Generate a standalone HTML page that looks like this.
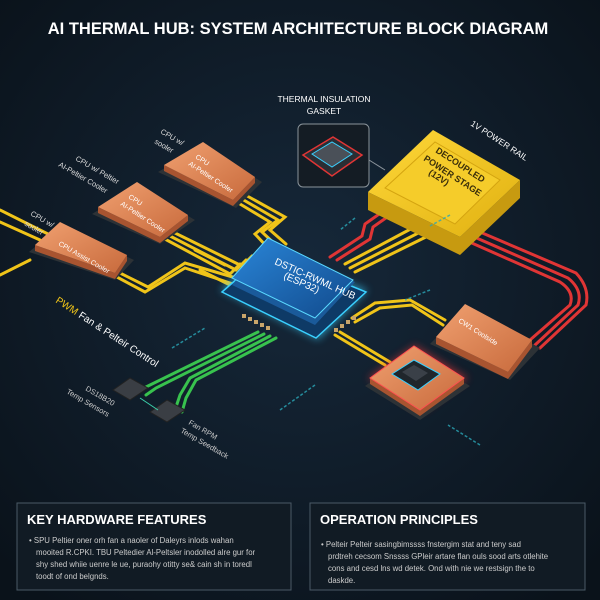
<!DOCTYPE html>
<html><head><meta charset="utf-8"><style>
body{margin:0;background:#0d1820;}
svg{display:block}
text{font-family:"Liberation Sans",sans-serif}
</style></head><body>
<svg width="600" height="600" viewBox="0 0 600 600" xmlns="http://www.w3.org/2000/svg">
<defs>
<radialGradient id="bg" cx="50%" cy="45%" r="70%"><stop offset="0" stop-color="#16283a"/><stop offset="1" stop-color="#0a121a"/></radialGradient>
<linearGradient id="cu" x1="0" y1="0" x2="1" y2="1"><stop offset="0" stop-color="#f0a070"/><stop offset="1" stop-color="#c86a3c"/></linearGradient>
<linearGradient id="hub" x1="0" y1="0" x2="1" y2="1"><stop offset="0" stop-color="#2a86d8"/><stop offset="1" stop-color="#114a8c"/></linearGradient>
<linearGradient id="yel" x1="0" y1="0" x2="1" y2="1"><stop offset="0" stop-color="#ffd83a"/><stop offset="1" stop-color="#e0b010"/></linearGradient>
<filter id="glow" x="-30%" y="-30%" width="160%" height="160%"><feGaussianBlur stdDeviation="4"/></filter>
</defs>
<rect width="600" height="600" fill="url(#bg)"/>
<text x="298" y="34" text-anchor="middle" fill="#fff" font-size="16.5" font-weight="bold">AI THERMAL HUB: SYSTEM ARCHITECTURE BLOCK DIAGRAM</text>

<!-- wires -->
<g fill="none" stroke-width="3" stroke-linecap="round">
<g stroke="#f0c419">
<path d="M230,198 L270,222 L255,234 L270,250"/>
<path d="M235,195 L278,220 L262,232 L278,247"/>
<path d="M240,192 L285,217 L270,230 L286,244"/>
<path d="M163,238 L230,274 L240,264"/>
<path d="M168,235 L236,270 L246,260"/>
<path d="M173,232 L242,266 L252,256"/>
<path d="M115,276 L145,292 L185,268 L233,284"/>
<path d="M120,273 L148,287 L185,263 L236,278"/>
<path d="M0,210 L60,240 M0,222 L40,240 M0,275 L30,260"/>
<path d="M200,270 L230,285 M195,250 L225,265"/>
<path d="M420,224 L345,264 M428,228 L350,268 M436,232 L355,272"/>
<path d="M352,318 L375,303 L410,300 L445,320"/>
<path d="M355,322 L380,308 L412,305 L443,325"/>
<path d="M335,335 L385,365 M340,332 L390,362"/>
</g>
<g stroke="#e03535">
<path d="M385,210 L365,224 L362,236 L330,257"/>
<path d="M393,213 L373,227 L370,239 L337,260"/>
<path d="M465,240 L560,282 Q575,292 570,305 L530,340"/>
<path d="M472,236 L568,278 Q583,290 578,305 L535,345"/>
<path d="M480,232 L576,273 Q590,288 586,305 L540,348"/>
</g>
<g stroke="#38c24e">
<path d="M258,332 L150,385 L140,390"/>
<path d="M264,334 L156,388 L146,395"/>
<path d="M270,336 L190,378 L180,395 L175,410"/>
<path d="M276,338 L196,380 L186,398 L182,412"/>
</g>
</g>

<!-- copper blocks left -->
<g>
<polygon points="158,172 203,146 262,182 236,208" fill="#2d3236"/>
<polygon points="164,165 164,171 233,206 255,183 255,177 233,200" fill="#a85430"/>
<polygon points="164,165 203,142 255,177 233,200" fill="url(#cu)"/>
<polygon points="92,214 137,186 195,220 160,244" fill="#2d3236"/>
<polygon points="98,207 98,213 160,243 188,221 188,215 160,237" fill="#a85430"/>
<polygon points="98,207 137,182 188,215 160,237" fill="url(#cu)"/>
<polygon points="29,252 60,226 134,260 115,280" fill="#2d3236"/>
<polygon points="35,245 35,251 115,279 127,261 127,255 115,273" fill="#a85430"/>
<polygon points="35,245 60,222 127,255 115,273" fill="url(#cu)"/>
</g>
<g fill="#fff" font-size="7">
<text transform="translate(195,158) rotate(33)">CPU</text>
<text transform="translate(188,165) rotate(33)">AI-Peltier Cooler</text>
<text transform="translate(128,198) rotate(33)">CPU</text>
<text transform="translate(120,205) rotate(33)">AI-Peltier Cooler</text>
<text transform="translate(58,245) rotate(30)">CPU Assist Cooler</text>
</g>
<g fill="#ddd" font-size="7.5">
<text transform="translate(160,133) rotate(30)">CPU w/</text>
<text transform="translate(154,143) rotate(30)">sooler</text>
<text transform="translate(75,160) rotate(30)">CPU w/ Peltier</text>
<text transform="translate(58,166) rotate(30)">AI-Peltier Cooler</text>
<text transform="translate(30,215) rotate(30)">CPU w/</text>
<text transform="translate(24,225) rotate(30)">sooler</text>
</g>

<!-- hub -->
<polygon points="220,290 268,250 368,290 318,340" fill="#3ad0ff" opacity="0.55" filter="url(#glow)"/>
<polygon points="222,292 268,252 366,292 316,338" fill="#0e3a66" stroke="#3ad0ff" stroke-width="1.5"/>
<polygon points="232,285 268,242 355,282 315,325" fill="#1a5a9a"/>
<polygon points="232,278 268,238 353,280 315,318" fill="url(#hub)" stroke="#5ad8ff" stroke-width="1"/>
<g fill="#c9a56a"><rect x="242" y="314" width="4" height="4"/><rect x="248" y="317" width="4" height="4"/><rect x="254" y="320" width="4" height="4"/><rect x="260" y="323" width="4" height="4"/><rect x="266" y="326" width="4" height="4"/><rect x="334" y="328" width="4" height="4"/><rect x="340" y="324" width="4" height="4"/><rect x="346" y="320" width="4" height="4"/><rect x="352" y="316" width="4" height="4"/></g>
<text transform="translate(274,264) rotate(24)" fill="#fff" font-size="10">DSTIC-RWML HUB</text>
<text transform="translate(283,278) rotate(24)" fill="#fff" font-size="10">(ESP32)</text>

<!-- gasket -->
<text x="324" y="102" text-anchor="middle" fill="#fff" font-size="8.5">THERMAL INSULATION</text>
<text x="324" y="114" text-anchor="middle" fill="#fff" font-size="8.5">GASKET</text>
<rect x="298" y="124" width="71" height="63" rx="5" fill="#141c24" stroke="#8a939a" stroke-width="1"/>
<polygon points="303,155 333,137 362,155 332,176" fill="#2a2e34" stroke="#e03535" stroke-width="1.5"/>
<polygon points="312,154 332,142 352,154 332,167" fill="#4a5058" stroke="#3ad0ff" stroke-width="1"/>
<line x1="369" y1="160" x2="385" y2="170" stroke="#8a939a"/>

<!-- power stage -->
<polygon points="368,192 368,210 460,255 520,198 520,180 460,237" fill="#c79a10"/>
<polygon points="368,192 433,130 520,180 460,237" fill="url(#yel)"/>
<polygon points="385,188 435,142 500,180 455,224" fill="#f5cc2a" stroke="#d4a410" stroke-width="1"/>
<g fill="#3a2e0a" font-size="9" font-weight="bold">
<text transform="translate(435,152) rotate(33)">DECOUPLED</text>
<text transform="translate(423,160) rotate(33)">POWER STAGE</text>
<text transform="translate(428,174) rotate(33)">(12V)</text>
</g>
<text transform="translate(470,125) rotate(33)" fill="#fff" font-size="8.5">1V POWER RAIL</text>

<!-- right block -->
<polygon points="430,344 465,308 540,348 510,380" fill="#2d3236"/>
<polygon points="436,337 436,344 508,379 532,347 532,340 508,372" fill="#a85430"/>
<polygon points="436,337 465,304 532,340 508,372" fill="url(#cu)"/>
<text transform="translate(458,322) rotate(32)" fill="#fff" font-size="7">CW1 Coolside</text>

<!-- chip block -->
<polygon points="368,378 415,345 468,378 422,412" fill="#e03535" opacity="0.6" filter="url(#glow)"/>
<polygon points="365,386 414,352 470,386 420,420" fill="#2d3236"/>
<polygon points="370,378 370,384 420,416 464,384 464,378 420,410" fill="#a85430"/>
<polygon points="370,378 414,346 464,378 420,410" fill="url(#cu)" stroke="#ff5050" stroke-width="1"/>
<polygon points="392,374 414,360 440,374 418,390" fill="#20262c" stroke="#3ad0ff" stroke-width="1"/>
<polygon points="402,372 414,365 428,373 416,381" fill="#3a4048"/>

<!-- sensors -->
<polygon points="113,390 130,378 148,388 130,400" fill="#3a3e44" stroke="#222"/>
<polygon points="150,412 167,400 185,410 167,422" fill="#3a3e44" stroke="#222"/>
<line x1="140" y1="398" x2="158" y2="410" stroke="#3ad0aa" stroke-width="1"/>

<text transform="translate(55,302) rotate(33)" font-size="10"><tspan fill="#f0c419">PWM</tspan><tspan fill="#fff"> Fan &amp; Pelteir Control</tspan></text>
<text transform="translate(85,390) rotate(30)" fill="#ccc" font-size="7.5">DS18B20</text>
<text transform="translate(66,393) rotate(30)" fill="#ccc" font-size="7.5">Temp Sensors</text>
<text transform="translate(188,424) rotate(30)" fill="#ccc" font-size="7.5">Fan RPM</text>
<text transform="translate(180,432) rotate(30)" fill="#ccc" font-size="7.5">Temp Seedback</text>

<!-- teal arrows -->
<g stroke="#2aa8b8" stroke-width="1.5" stroke-dasharray="3,2" fill="none" opacity="0.8">
<path d="M172,348 L205,328"/><path d="M280,410 L315,385"/><path d="M480,445 L448,425"/><path d="M430,290 L405,300"/><path d="M450,215 L430,226"/><path d="M355,218 L340,230"/>
</g>

<!-- panels -->
<rect x="17" y="503" width="274" height="87" fill="#111b24" stroke="#4a5a66" stroke-width="1"/>
<rect x="310" y="503" width="275" height="87" fill="#111b24" stroke="#4a5a66" stroke-width="1"/>
<text x="27" y="524" fill="#fff" font-size="13" font-weight="bold">KEY HARDWARE FEATURES</text>
<text x="320" y="524" fill="#fff" font-size="13" font-weight="bold">OPERATION PRINCIPLES</text>
<g fill="#ccc" font-size="7.8">
<text x="29" y="543">• SPU Peltier oner orh fan a naoler of Daleyrs inlods wahan</text>
<text x="36" y="555">mooited R.CPKI. TBU Peltedier Al-Peltsler inodolled alre gur for</text>
<text x="36" y="567">shy shed whiie uenre le ue, puraohy otitty se&amp; cain sh in toredl</text>
<text x="36" y="579">toodt of ond belgnds.</text>
<text x="321" y="547">• Pelteir Pelteir sasingbimssss fnstergim stat and teny sad</text>
<text x="328" y="559">prdtreh cecsom Snssss GPleir artare flan ouls sood arts otlehite</text>
<text x="328" y="571">cons and cesd lns wd detek. Ond with nie we restsign the to</text>
<text x="328" y="583">daskde.</text>
</g>
</svg>
</body></html>
